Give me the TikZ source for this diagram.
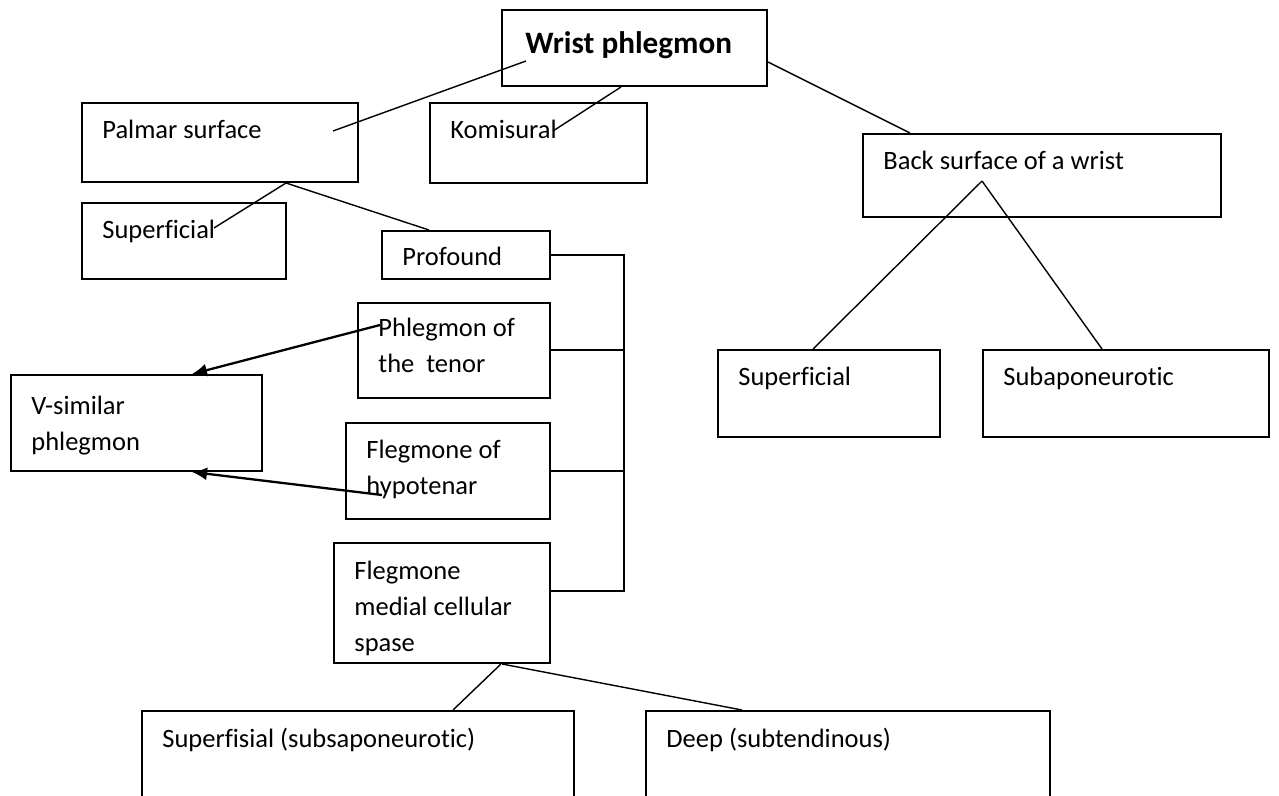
\documentclass[tikz,border=0pt]{standalone}
\usepackage{fontspec}
\setmainfont{Carlito}[Ligatures=CommonOff]
\usetikzlibrary{arrows.meta}
\begin{document}
\begin{tikzpicture}[x=0.5pt, y=-0.5pt,
    box/.style={draw, line width=1pt, anchor=north west, inner sep=0pt},
    sz/.style 2 args={minimum width=#1*0.5pt, minimum height=#2*0.5pt},
    txt/.style={anchor=north west, inner sep=0pt, xshift=10.5pt, yshift=-9pt,
      align=left, font=\fontsize{13.25}{18}\selectfont},
    link/.style={line width=0.7pt},
    pointer/.style={line width=1.15pt, -{Latex[length=7.5pt, width=6.5pt]}}]
  \useasboundingbox (0,0) rectangle (1279,796);
  % boxes
  \node[box, sz={265}{76}, label={[txt, xshift=1.5pt, yshift=-2pt,
    font=\fontsize{15.6}{19}\selectfont\bfseries]north west:Wrist phlegmon}]
    (wrist) at (501,9) {};
  \node[box, sz={276}{79}, label={[txt]north west:Palmar surface}] (palmar) at (81,102) {};
  \node[box, sz={217}{80}, label={[txt]north west:Komisural}] (komis) at (429,102) {};
  \node[box, sz={358}{83}, label={[txt]north west:Back surface of a wrist}] (back) at (862,133) {};
  \node[box, sz={204}{76}, label={[txt]north west:Superficial}] (palsup) at (81,202) {};
  \node[box, sz={168}{48}, label={[txt, yshift=0.5pt]north west:Profound}] (profound) at (381,230) {};
  \node[box, sz={192}{95}, label={[txt, yshift=1pt]north west:Phlegmon of\\the~~tenor}] (tenor) at (357,302) {};
  \node[box, sz={251}{96}, label={[txt, yshift=-2pt]north west:V-similar\\phlegmon}] (vsim) at (10,374) {};
  \node[box, sz={204}{96}, label={[txt]north west:Flegmone of\\hypotenar}] (hypo) at (345,422) {};
  \node[box, sz={216}{120}, label={[txt, yshift=-0.5pt]north west:Flegmone\\medial cellular\\spase}] (medial) at (333,542) {};
  \node[box, sz={222}{87}, label={[txt]north west:Superficial}] (backsup) at (717,349) {};
  \node[box, sz={286}{87}, label={[txt]north west:Subaponeurotic}] (subapo) at (982,349) {};
  \node[box, sz={432}{130}, label={[txt]north west:Superfisial (subsaponeurotic)}] (subsapo) at (141,710) {};
  \node[box, sz={404}{130}, label={[txt]north west:Deep (subtendinous)}] (deep) at (645,710) {};
  % connectors
  \draw[link] ([shift={(25,52)}]wrist.north west) -- ([shift={(252,29)}]palmar.north west);
  \draw[link] ([shift={(120,0)}]wrist.south west) -- ([shift={(124,29)}]komis.north west);
  \draw[link] ([shift={(0,53)}]wrist.north east) -- ([shift={(48,0)}]back.north west);
  \draw[link] ([shift={(205,0)}]palmar.south west) -- ([shift={(133,26)}]palsup.north west);
  \draw[link] ([shift={(205,0)}]palmar.south west) -- ([shift={(48,0)}]profound.north west);
  \draw[link] ([shift={(120,48)}]back.north west) -- ([shift={(96,0)}]backsup.north west);
  \draw[link] ([shift={(120,48)}]back.north west) -- ([shift={(120,0)}]subapo.north west);
  \draw[link] ([shift={(168,0)}]medial.south west) -- ([shift={(312,0)}]subsapo.north west);
  \draw[link] ([shift={(169,0)}]medial.south west) -- ([shift={(97,0)}]deep.north west);
  % bracket on the right
  \draw[link] (profound.east) -- ++(73,0) coordinate (br) |- ([shift={(0,-12)}]medial.east);
  \draw[link] ([shift={(0,-0.5)}]tenor.east) -- ([shift={(0,-0.5)}]tenor.east -| br);
  \draw[link] (hypo.east) -- (hypo.east -| br);
  % arrows to V-similar
  \draw[pointer] ([shift={(23,23)}]tenor.north west) -- ([shift={(182,0)}]vsim.north west);
  \draw[pointer] ([shift={(37,73)}]hypo.north west) -- ([shift={(182,0)}]vsim.south west);
\end{tikzpicture}
\end{document}
